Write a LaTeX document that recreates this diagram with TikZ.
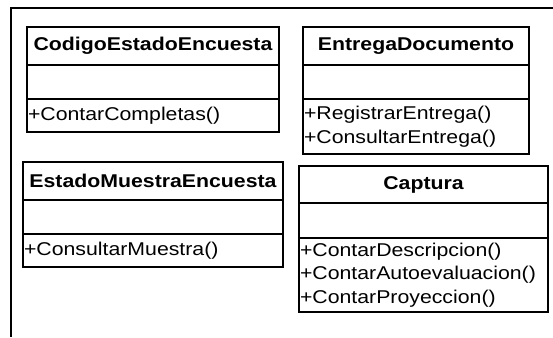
\documentclass[tikz,border=0pt]{standalone}
\usepackage{fontspec}
\setmainfont{Liberation Sans}[FakeStretch=1.15]
\usetikzlibrary{positioning}
\newcommand{\umlfont}{\fontsize{18.5}{23.7}\selectfont}
\tikzset{
  frame/.style={line width=1.5pt},
  clsname/.style={draw, line width=1.2pt, font=\umlfont\bfseries, anchor=north west, inner sep=0pt, outer sep=0pt, minimum height=38pt},
  clsattr/.style={draw, line width=1.2pt, inner sep=0pt, outer sep=0pt, minimum height=34pt},
  clsops/.style={draw, line width=1.2pt, font=\umlfont, inner xsep=1pt, inner ysep=0pt, outer sep=0pt, align=left},
}

\begin{document}
\begin{tikzpicture}[x=1pt, y=-1pt]
    \useasboundingbox (0,0) rectangle (553,337);
    % Package frame
    \draw[frame] (11,337) -- (11,8) -- (553,8);
    % CodigoEstadoEncuesta
    \node[clsname, minimum width=252pt] (codN) at (27,27) {CodigoEstadoEncuesta};
    \node[clsattr, minimum width=252pt, below=0pt of codN] (codA) {};
    \node[clsops, text width=250pt, minimum height=33pt, below=0pt of codA] (codO) {+ContarCompletas()};
    % EntregaDocumento
    \node[clsname, minimum width=226pt] (entN) at (303,27) {EntregaDocumento};
    \node[clsattr, minimum width=226pt, below=0pt of entN] (entA) {};
    \node[clsops, text width=224pt, minimum height=55pt, below=0pt of entA] (entO) {+RegistrarEntrega()\\+ConsultarEntrega()};
    % EstadoMuestraEncuesta
    \node[clsname, minimum width=260pt] (estN) at (23,162) {EstadoMuestraEncuesta};
    \node[clsattr, minimum width=260pt, below=0pt of estN] (estA) {};
    \node[clsops, text width=258pt, minimum height=33pt, below=0pt of estA] (estO) {+ConsultarMuestra()};
    % Captura
    \node[clsname, minimum width=249pt, minimum height=37pt] (capN) at (299,166) {Captura};
    \node[clsattr, minimum width=249pt, minimum height=35pt, below=0pt of capN] (capA) {};
    \node[clsops, text width=247pt, minimum height=74pt, below=0pt of capA] (capO) {+ContarDescripcion()\\+ContarAutoevaluacion()\\+ContarProyeccion()};
\end{tikzpicture}
\end{document}
